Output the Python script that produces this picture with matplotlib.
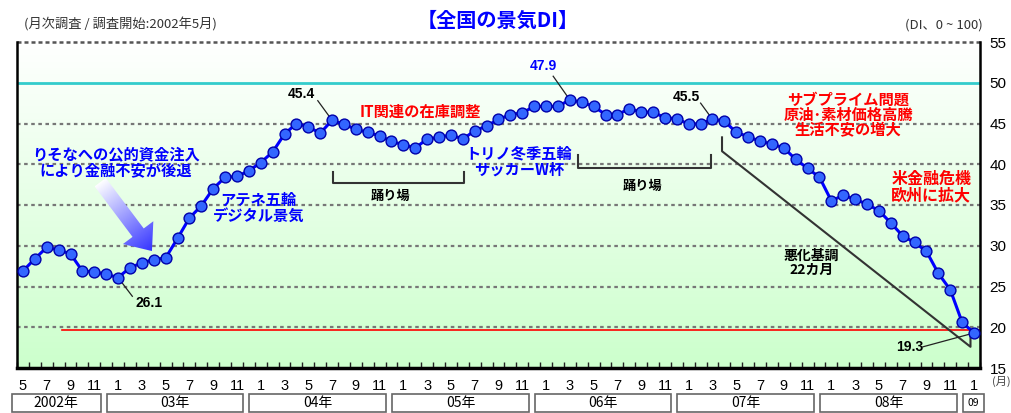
import matplotlib
matplotlib.use("Agg")
import matplotlib.pyplot as plt
import numpy as np
from matplotlib.patches import Polygon, Rectangle
from matplotlib.transforms import blended_transform_factory

plt.rcParams['font.family'] = ['Liberation Sans', 'Noto Sans CJK JP', 'DejaVu Sans']
JP = ['Noto Sans CJK JP', 'DejaVu Sans']

# monthly DI, May 2002 .. Jan 2009
di_2002 = [26.9, 28.4, 29.8, 29.5, 29.0, 26.9, 26.8, 26.5]
di_2003 = [26.1, 27.3, 27.9, 28.3, 28.5, 30.9, 33.4, 34.9, 37.0, 38.4, 38.5, 39.2]
di_2004 = [40.2, 41.5, 43.7, 45.0, 44.6, 43.8, 45.4, 44.9, 44.3, 43.9, 43.5, 42.8]
di_2005 = [42.4, 42.0, 43.1, 43.3, 43.6, 43.1, 44.1, 44.7, 45.5, 46.1, 46.3, 47.1]
di_2006 = [47.1, 47.1, 47.9, 47.6, 47.1, 46.1, 46.1, 46.8, 46.4, 46.4, 45.7, 45.6]
di_2007 = [44.9, 45.0, 45.5, 45.3, 43.9, 43.4, 42.8, 42.5, 42.0, 40.6, 39.5, 38.4]
di_2008 = [35.5, 36.2, 35.7, 35.1, 34.3, 32.8, 31.2, 30.4, 29.3, 26.6, 24.6, 20.6]
di_2009 = [19.3]
di = np.array(di_2002 + di_2003 + di_2004 + di_2005 + di_2006 + di_2007 + di_2008 + di_2009)
x = np.arange(len(di))

start_month = 5
months = [(start_month - 1 + i) % 12 + 1 for i in range(len(di))]
year_labels = ['2002年', '03年', '04年', '05年', '06年', '07年', '08年', '09']
year_first = [0, 8, 20, 32, 44, 56, 68, 80]
year_last = [7, 19, 31, 43, 55, 67, 79, 80]

# highlighted values: (index, label, color, text pos, leader start)
callouts = [
    (26, '45.4', 'black', (23.4, 48.6), (24.8, 47.8)),
    (8, '26.1', 'black', (10.6, 23.0), (9.2, 23.8)),
    (46, '47.9', '#0000ff', (43.8, 52.1), (44.6, 50.8)),
    (58, '45.5', 'black', (55.8, 48.3), (57.0, 47.5)),
    (80, '19.3', 'black', (74.6, 17.6), (75.7, 17.6)),
]

fig = plt.figure(figsize=(10.11, 4.13), dpi=100)
ax = fig.add_axes([17 / 1011, 45 / 413, 963 / 1011, 326 / 413])
ax.set_xlim(-0.5, len(di) - 0.5)
ax.set_ylim(15, 55)

# background gradient
grad = np.linspace(0, 1, 256).reshape(-1, 1)
top = np.array([1.0, 1.0, 1.0])
bot = np.array([0.80, 1.0, 0.80])
img = bot + (top - bot) * grad
ax.imshow(img[:, None, :].repeat(2, axis=1), extent=(-0.5, len(di) - 0.5, 15, 55),
          origin='lower', aspect='auto', zorder=0, interpolation='bilinear')

# grid
for v in [20, 25, 30, 35, 40, 45]:
    ln, = ax.plot([-0.5, len(di) - 0.5], [v, v], color='#777777', lw=1.6, zorder=1)
    ln.set_dashes([1.6, 1.6])
ln, = ax.plot([-0.5, len(di) - 0.5], [55, 55], color='#555555', lw=1.8, zorder=1, clip_on=False)
ln.set_dashes([1.6, 1.2])
ax.axhline(50, color='#33cccc', lw=2, zorder=1)
ax.plot([3.3, len(di) - 0.5], [19.65, 19.65], color='#ff0000', lw=1.2, zorder=1)

# brackets
ax.plot([26.1, 26.1, 37.1, 37.1], [39.1, 37.7, 37.7, 39.1], color='#333333', lw=1.5, zorder=2)
ax.plot([46.7, 46.7, 57.9, 57.9], [41.1, 39.5, 39.5, 41.1], color='#333333', lw=1.5, zorder=2)
ax.plot([58.8, 58.8, 79.7, 79.7], [43.3, 41.6, 17.6, 19.5], color='#333333', lw=1.5, zorder=2)

# gradient arrow
fig.canvas.draw()
tail = ax.transData.transform((6.5, 37.8))
tip = ax.transData.transform((10.85, 29.35))
d = (tip - tail) / np.linalg.norm(tip - tail)
n = np.array([-d[1], d[0]])
L = np.linalg.norm(tip - tail)
hl, hw, sw = 23, 19, 7
base = tail + d * (L - hl)
pts = [tail + n * sw, base + n * sw, base + n * hw, tip,
       base - n * hw, base - n * sw, tail - n * sw]
pts_data = ax.transData.inverted().transform(np.array(pts))
arrow = Polygon(pts_data, closed=True, facecolor='none', edgecolor='none', zorder=3)
ax.add_patch(arrow)
x0, y0 = pts_data.min(axis=0)
x1, y1 = pts_data.max(axis=0)
gx, gy = np.meshgrid(np.linspace(x0, x1, 120), np.linspace(y0, y1, 120))
disp = ax.transData.transform(np.column_stack([gx.ravel(), gy.ravel()]))
t = np.clip(((disp - tail) @ d) / L, 0, 1).reshape(gx.shape)
c0 = np.array([1.0, 1.0, 1.0])
c1 = np.array([0.2, 0.2, 1.0])
arr_img = c0 + (c1 - c0) * t[..., None]
im = ax.imshow(arr_img, extent=(x0, x1, y0, y1), origin='lower', aspect='auto',
               zorder=3, interpolation='bilinear')
im.set_clip_path(arrow)

# series
ax.plot(x, di, color='#0000ff', lw=2.2, zorder=4)
ax.plot(x, di, 'o', ms=7.8, mfc='#3366ff', mec='#0000aa', mew=1, zorder=5)

# callouts
for i, lab, col, tpos, lpos in callouts:
    ax.plot([lpos[0], x[i]], [lpos[1], di[i]], color='#222222', lw=0.9, zorder=3)
    ax.text(tpos[0], tpos[1], lab, color=col, fontsize=10, fontweight='bold',
            ha='center', va='center', zorder=6)

# annotations
ax.text(7.8, 40.3, 'りそなへの公的資金注入\nにより金融不安が後退', family=JP, color='#0000ff',
        fontsize=11, fontweight='bold', ha='center', va='center', linespacing=1.0, zorder=6)
ax.text(19.8, 34.6, 'アテネ五輪\nデジタル景気', family=JP, color='#0000ff',
        fontsize=11, fontweight='bold', ha='center', va='center', linespacing=1.0, zorder=6)
ax.text(33.4, 46.4, 'IT関連の在庫調整', family=JP, color='#ff0000',
        fontsize=11, fontweight='bold', ha='center', va='center', zorder=6)
ax.text(41.7, 40.3, 'トリノ冬季五輪\nサッカーW杯', family=JP, color='#0000ff',
        fontsize=11, fontweight='bold', ha='center', va='center', linespacing=1.0, zorder=6)
ax.text(69.4, 46.0, 'サブプライム問題\n原油･素材価格高騰\n生活不安の増大', family=JP, color='#ff0000',
        fontsize=11, fontweight='bold', ha='center', va='center', linespacing=0.95, zorder=6)
ax.text(76.4, 37.2, '米金融危機\n欧州に拡大', family=JP, color='#ff0000',
        fontsize=11.5, fontweight='bold', ha='center', va='center', linespacing=1.0, zorder=6)
ax.text(66.3, 27.9, '悪化基調\n22カ月', family=JP, color='black',
        fontsize=10, fontweight='bold', ha='center', va='center', linespacing=1.0, zorder=6)
ax.text(30.9, 36.1, '踊り場', family=JP, color='black', fontsize=9.5,
        fontweight='bold', ha='center', va='center', zorder=6)
ax.text(52.1, 37.3, '踊り場', family=JP, color='black', fontsize=9.5,
        fontweight='bold', ha='center', va='center', zorder=6)

# axes styling
ax.spines['top'].set_visible(False)
ax.spines['left'].set_linewidth(1.8)
ax.spines['right'].set_linewidth(1.8)
ax.spines['bottom'].set_linewidth(2.5)
ax.yaxis.tick_right()
ax.set_yticks(np.arange(15, 56, 5))
ax.tick_params(axis='y', length=0, labelsize=11, pad=7)

odd = [i for i in x if months[i] % 2 == 1]
ax.set_xticks(odd)
ax.set_xticklabels([str(months[i]) for i in odd])
ax.tick_params(axis='x', which='major', length=0, labelsize=10.5, pad=8)
ax.set_xticks(np.arange(-0.5, len(di), 1), minor=True)
ax.tick_params(axis='x', which='minor', direction='in', length=4, width=1, color='#222222')
ax.text(1.012, -0.04, '(月)', transform=ax.transAxes, family=JP, fontsize=8,
        color='#444444', ha='left', va='center')

# year boxes
tb = blended_transform_factory(ax.transData, ax.transAxes)
for lab, a, b in zip(year_labels, year_first, year_last):
    left = a - 0.95
    right = b - 0.45 if b > a else b + 0.8
    ax.add_patch(Rectangle((left, -0.134), right - left, 0.055, transform=tb,
                           facecolor='white', edgecolor='#666666', lw=1.2, clip_on=False))
    ax.text((left + right) / 2, -0.107, lab, transform=tb, family=JP,
            fontsize=10 if b > a else 7.5, ha='center', va='center')

# titles
fig.text(0.492, 0.952, '【全国の景気DI】', family=JP, color='#0000ff', fontsize=14.5,
         fontweight='bold', ha='center', va='center')
fig.text(0.024, 0.94, '(月次調査 / 調査開始:2002年5月)', family=JP, color='#333333',
         fontsize=9.5, ha='left', va='center')
fig.text(0.972, 0.94, '(DI、0 ~ 100)', family=JP, color='#333333',
         fontsize=9.5, ha='right', va='center')

fig.savefig('out.png', dpi=100)
